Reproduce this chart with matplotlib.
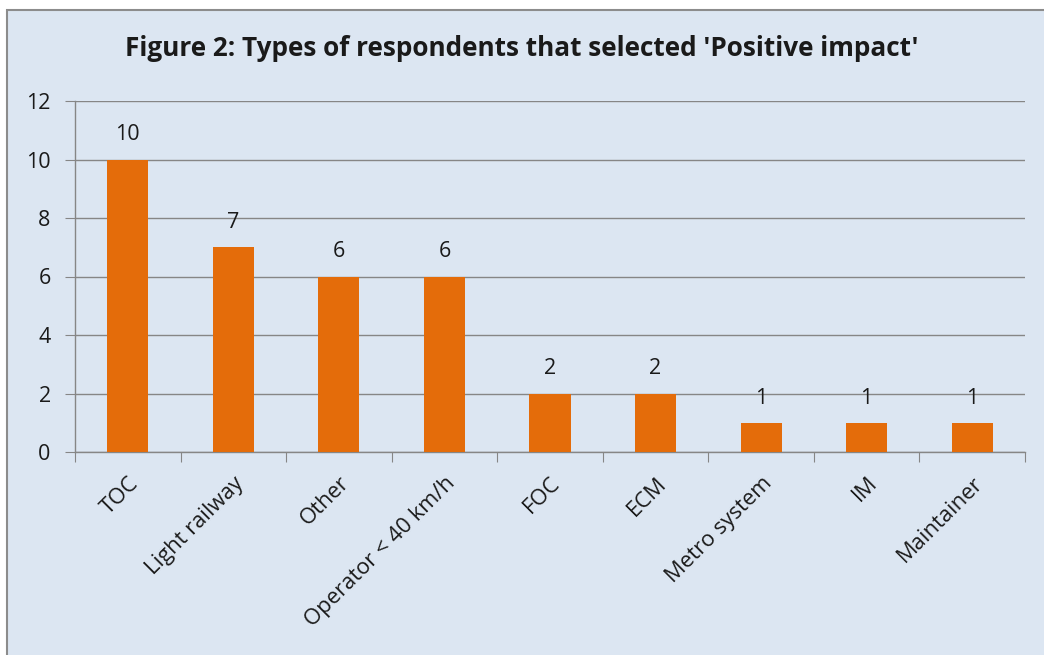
import matplotlib.pyplot as plt
from matplotlib.patches import Rectangle

categories = ['TOC', 'Light railway', 'Other', 'Operator < 40 km/h', 'FOC', 'ECM',
              'Metro system', 'IM', 'Maintainer']
counts = [10, 7, 6, 6, 2, 2, 1, 1, 1]
y_ticks = [0, 2, 4, 6, 8, 10, 12]

BG = '#dce6f2'
BAR = '#e46c0a'
GRID = '#868686'

plt.rcParams['font.family'] = ['Open Sans', 'DejaVu Sans']

fig = plt.figure(figsize=(10.44, 6.55), dpi=100)
fig.patch.set_facecolor('white')
# chart area panel with gray border, clipped at right/bottom like the source
panel = Rectangle((7 / 1044, -0.01), 1.05, 1 - 10 / 655 + 0.01,
                  transform=fig.transFigure, facecolor=BG,
                  edgecolor='#8c8c8c', linewidth=1.5, zorder=-1)
fig.patches.append(panel)

ax = fig.add_axes([75 / 1044, 1 - 452 / 655, (1025 - 75) / 1044, (452 - 101) / 655])
ax.set_zorder(2)
ax.patch.set_alpha(0)

x = range(len(categories))
ax.bar(x, counts, width=0.39, color=BAR, zorder=3)
for xi, v in zip(x, counts):
    ax.text(xi, v + 0.48, str(v), ha='center', va='bottom', fontsize=15.5, color='#1a1a1a')

ax.set_xlim(-0.5, len(categories) - 0.5)
ax.set_ylim(0, 12)
ax.set_yticks(y_ticks)
ax.set_yticklabels([str(t) for t in y_ticks], fontsize=15.5, color='#1a1a1a')
ax.yaxis.grid(True, color=GRID, linewidth=1, zorder=0)
ax.set_axisbelow(True)

ax.set_xticks([i - 0.5 for i in range(len(categories) + 1)], minor=False)
ax.set_xticklabels([])
ax.set_xticks(list(x), minor=True)
ax.set_xticklabels(categories, minor=True, rotation=45, ha='right',
                   rotation_mode='anchor', fontsize=15.8, color='#1a1a1a')
ax.tick_params(axis='x', which='minor', length=0, pad=15)
ax.tick_params(axis='x', which='major', length=7, color=GRID, direction='out')
ax.tick_params(axis='y', length=7, color=GRID, pad=10.5)

for s in ['top', 'right']:
    ax.spines[s].set_visible(False)
for s in ['left', 'bottom']:
    ax.spines[s].set_color(GRID)
    ax.spines[s].set_linewidth(1)

fig.text(0.50, 1 - 48 / 655, "Figure 2: Types of respondents that selected 'Positive impact'",
         ha='center', va='center', fontsize=18.8, fontweight='bold', color='#1a1a1a',
         zorder=3)

fig.savefig('out.png', dpi=100, facecolor=fig.get_facecolor())
